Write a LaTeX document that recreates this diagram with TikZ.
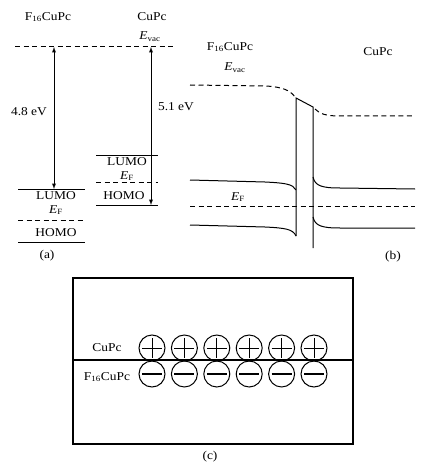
\documentclass[tikz,border=0pt]{standalone}
\usepackage{fontspec}
\setmainfont{Liberation Serif}
\usetikzlibrary{calc}
\usetikzlibrary{positioning}
\tikzset{
  lvl/.style={line width=1pt},
  dlvl/.style={line width=1pt, dash pattern=on 5pt off 3.5pt},
  lbl/.style={font=\fontsize{12}{14}\selectfont, inner sep=0pt, xscale=1.12},
  gap/.style={line width=0.9pt, latex-latex},
  ion/.style={circle, draw, line width=1pt, minimum size=26pt, inner sep=0pt},
}
\begin{document}
\begin{tikzpicture}[x=1pt, y=-1pt]
\useasboundingbox (0,0) rectangle (431,468);
% (a)
\node[lbl] (fL) at (48,17) {F\textsubscript{16}CuPc};
\node[lbl] (cR) at (152,17) {CuPc};
\draw[dlvl] (15,47) -- (175,47);
\node[lbl] (vacA) at (150,37) {\textit{E}\textsubscript{vac}};
\draw[lvl] (18,189) -- (85,189);
\draw[dlvl] (18,220) -- (85,220);
\draw[lvl] (18,242) -- (85,242);
\node[lbl] (lumoL) at (56,196) {LUMO};
\node[lbl] (efL) at (56,210) {\textit{E}\textsubscript{F}};
\node[lbl] (homoL) at (56,233) {HOMO};
\draw[lvl] (96,155) -- (158,155);
\draw[dlvl] (96,182) -- (158,182);
\draw[lvl] (96,205) -- (158,205);
\node[lbl] (lumoR) at (127,162) {LUMO};
\node[lbl] (efR) at (127,176) {\textit{E}\textsubscript{F}};
\node[lbl] (homoR) at (124,196) {HOMO};
\coordinate (topL) at (54,47);
\coordinate (botL) at (54,189);
\coordinate (topR) at (151,47);
\coordinate (botR) at (151,205);
\draw[gap] (topL) -- (botL);
\draw[gap] (topR) -- (botR);
\node[lbl] (wL) at (29,112) {4.8 eV};
\node[lbl] (wR) at (176,107) {5.1 eV};
\node[lbl] (capA) at (47,256) {(a)};
% (b)
\node[lbl] (fB) at (230,47) {F\textsubscript{16}CuPc};
\node[lbl] (vacB) at (235,68) {\textit{E}\textsubscript{vac}};
\node[lbl] (cB) at (378,52) {CuPc};
\draw[dlvl] (190,85) -- (266,86) .. controls (282,87) and (290,90) .. (295,97);
\draw[dlvl] (315,109) .. controls (320,114) and (326,116) .. (340,116) -- (415,116);
\draw[lvl] (296,236) -- (296,98) -- (313,107) -- (313,248);
\draw[lvl] (190,180) -- (265,182) .. controls (285,183) and (293,184) .. (296,190);
\draw[lvl] (313,177) .. controls (315,186) and (322,188) .. (340,188) -- (415,189);
\draw[lvl] (190,225) -- (265,227) .. controls (285,228) and (293,229) .. (296,236);
\draw[lvl] (313,217) .. controls (315,226) and (322,228) .. (340,228) -- (415,228);
\draw[dlvl] (190,206) -- (415,206);
\node[lbl] (efB) at (238,197) {\textit{E}\textsubscript{F}};
\node[lbl] (capB) at (393,257) {(b)};
% (c)
\draw[line width=1.1pt] (73,278) rectangle (353,444);
\draw[line width=1.1pt] (73,360) -- (353,360);
\node[lbl] (cC) at (107,348) {CuPc};
\node[lbl] (fC) at (107,377) {F\textsubscript{16}CuPc};
\foreach \i in {0,...,5}{
  \node[ion] (p\i) at ({152+32.4*\i},348) {};
  \draw[line width=1pt] ($(p\i.center)+(-10,0)$) -- ($(p\i.center)+(10,0)$);
  \draw[line width=1pt] ($(p\i.center)+(0,-10)$) -- ($(p\i.center)+(0,10)$);
  \node[ion] (m\i) at ({152+32.4*\i},374) {};
  \draw[line width=1.5pt] ($(m\i.center)+(-10,0)$) -- ($(m\i.center)+(10,0)$);
}
\node[lbl] (capC) at (210,457) {(c)};
\end{tikzpicture}
\end{document}
